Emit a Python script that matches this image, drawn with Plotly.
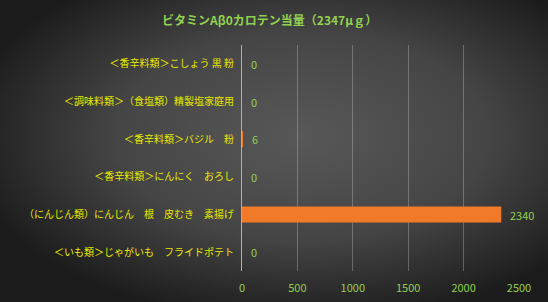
import base64
import plotly.graph_objects as go

title = "ビタミンAβ0カロテン当量（2347μｇ）"
categories = [
    "＜香辛料類＞こしょう 黒 粉",
    "＜調味料類＞（食塩類）精製塩家庭用",
    "＜香辛料類＞バジル　粉",
    "＜香辛料類＞にんにく　おろし",
    "（にんじん類）にんじん　根　皮むき　素揚げ",
    "＜いも類＞じゃがいも　フライドポテト",
]
values = [0, 0, 6, 0, 2340, 0]
x_ticks = [0, 500, 1000, 1500, 2000, 2500]

W, H = 548, 302
svg = f'''<svg xmlns="http://www.w3.org/2000/svg" width="{W}" height="{H}" viewBox="0 0 {W} {H}" preserveAspectRatio="none">
<defs><radialGradient id="g" cx="0.55" cy="0.45" r="0.62" gradientUnits="objectBoundingBox">
<stop offset="0" stop-color="#585858"/><stop offset="0.55" stop-color="#454545"/><stop offset="1" stop-color="#1c1c1c"/>
</radialGradient></defs><rect width="{W}" height="{H}" fill="url(#g)"/></svg>'''
bg = "data:image/svg+xml;base64," + base64.b64encode(svg.encode()).decode()

font_jp = "Noto Sans CJK JP"
green = "#92d050"
yellow = "#e8e800"

fig = go.Figure()
fig.add_trace(go.Bar(
    x=values, y=categories, orientation="h",
    marker=dict(color="#f07a28", line=dict(width=0)),
    width=0.43,
))
for c, v in zip(categories, values):
    fig.add_annotation(x=v, y=c, text=str(v), showarrow=False, xanchor="left",
                       xshift=7, font=dict(color=green, size=11, family=font_jp))
fig.update_layout(
    width=W, height=H,
    margin=dict(l=242, r=29, t=45, b=31),
    paper_bgcolor="rgba(0,0,0,0)", plot_bgcolor="rgba(0,0,0,0)",
    showlegend=False,
    images=[dict(source=bg, xref="paper", yref="paper", x=-242/277, y=1+45/226,
                 sizex=W/277, sizey=H/226, xanchor="left", yanchor="top",
                 sizing="stretch", layer="below")],
    title=dict(text=title, x=0.492, xanchor="center", y=0.93, yanchor="middle",
               font=dict(color=green, size=12, family=font_jp, weight="bold")),
    xaxis=dict(range=[0, 2500], tickvals=x_ticks, showgrid=True, automargin=False,
               gridcolor="rgba(200,200,200,0.35)", gridwidth=1, zeroline=False,
               showline=False, ticks="", ticklabelstandoff=9,
               tickfont=dict(color=green, size=11, family=font_jp)),
    yaxis=dict(autorange="reversed", showline=True, linecolor="#b0b0b0", linewidth=1,
               showgrid=False, ticks="", ticklabelstandoff=5, automargin=False,
               tickfont=dict(color=yellow, size=10, family=font_jp)),
)
fig.write_html("out.html")
